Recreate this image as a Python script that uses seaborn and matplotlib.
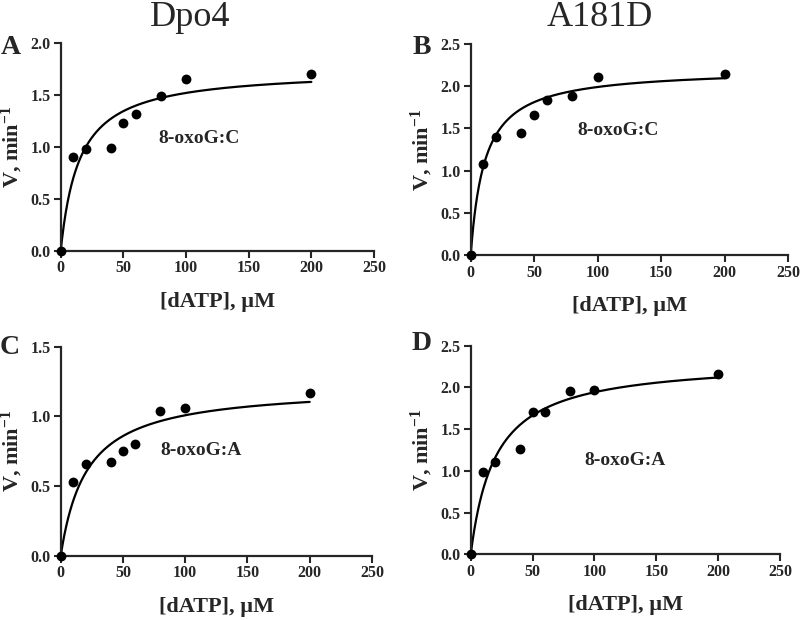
import numpy as np
import pandas as pd
import matplotlib.pyplot as plt
import seaborn as sns

# substrate concentrations (uM), shared by all panels
dATP = [0, 10, 20, 40, 50, 60, 80, 100, 200]

v_dpo4_C = [0, 0.90, 0.98, 0.99, 1.23, 1.32, 1.49, 1.66, 1.70]
v_a181d_C = [0, 1.08, 1.40, 1.45, 1.66, 1.84, 1.89, 2.11, 2.15]
v_dpo4_A = [0, 0.53, 0.66, 0.67, 0.75, 0.80, 1.04, 1.06, 1.17]
v_a181d_A = [0, 0.98, 1.11, 1.26, 1.70, 1.71, 1.96, 1.97, 2.16]

# Michaelis-Menten fit parameters estimated from the drawn curves
vmax = [1.75, 2.21, 1.22, 2.33]
km = [15.0, 11.0, 21.0, 20.0]

panel_letters = ["A", "B", "C", "D"]
pair_labels = ["8-oxoG:C", "8-oxoG:C", "8-oxoG:A", "8-oxoG:A"]
column_titles = ["Dpo4", "A181D"]
y_max = [2.0, 2.5, 1.5, 2.5]
x_ticks = [0, 50, 100, 150, 200, 250]

sns.set_style("ticks")
plt.rcParams["font.family"] = ["Liberation Serif", "DejaVu Serif"]
plt.rcParams["font.weight"] = "bold"
plt.rcParams["mathtext.fontset"] = "custom"
plt.rcParams["mathtext.rm"] = "Liberation Serif:bold"
plt.rcParams["mathtext.it"] = "Liberation Serif:bold"
plt.rcParams["mathtext.bf"] = "Liberation Serif:bold"

fig = plt.figure(figsize=(8, 6.2), dpi=100)
boxes = [
    [0.0759, 0.5956, 0.3916, 0.3345],
    [0.5884, 0.5887, 0.3966, 0.3403],
    [0.0759, 0.1037, 0.3890, 0.3370],
    [0.5884, 0.1060, 0.3866, 0.3365],
]
label_pos = [(78, 1.08), (84, 1.48), (80, 0.754), (92, 1.118)]
series = [v_dpo4_C, v_a181d_C, v_dpo4_A, v_a181d_A]

for i, box in enumerate(boxes):
    ax = fig.add_axes(box)
    df = pd.DataFrame({"dATP": dATP, "V": series[i]})
    xs = np.linspace(0, 200, 400)
    fit = pd.DataFrame({"dATP": xs, "V": vmax[i] * xs / (km[i] + xs)})
    sns.lineplot(data=fit, x="dATP", y="V", ax=ax, color="black", lw=1.6)
    sns.scatterplot(data=df, x="dATP", y="V", ax=ax, color="black", s=50,
                    edgecolor="black", linewidth=0, clip_on=False, zorder=5)

    ax.set_xlim(0, 250)
    ax.set_ylim(0, y_max[i])
    ax.set_xticks(x_ticks)
    ax.set_yticks(np.arange(0, y_max[i] + 0.01, 0.5))
    ax.yaxis.set_major_formatter(plt.FormatStrFormatter("%.1f"))
    ax.tick_params(direction="out", length=5, width=1.5, labelsize=11.5, pad=2)
    for lab in ax.get_xticklabels() + ax.get_yticklabels():
        lab.set_fontweight("bold")
    for s in ["left", "bottom"]:
        ax.spines[s].set_linewidth(1.6)
    sns.despine(ax=ax)

    ax.set_xlabel("[dATP], µM", fontsize=16, fontweight="bold", labelpad=11)
    ax.set_ylabel("V, min$^{-1}$", fontsize=16, fontweight="bold", labelpad=4)
    ax.text(label_pos[i][0], label_pos[i][1], pair_labels[i], fontsize=14,
            fontweight="bold", ha="left", va="center")

# panel letters and column titles
letter_xy = [(11, 47), (422, 47), (10, 348), (422, 343)]
for (px, py), letter in zip(letter_xy, panel_letters):
    fig.text(px / 800, 1 - py / 620, letter, fontsize=20, fontweight="bold",
             ha="center", va="center")
fig.text(190 / 800, 1 - 18 / 620, column_titles[0], fontsize=26,
         fontweight="normal", ha="center", va="center")
fig.text(600 / 800, 1 - 18 / 620, column_titles[1], fontsize=26,
         fontweight="normal", ha="center", va="center")

fig.savefig("out.png", dpi=100, facecolor="white")
